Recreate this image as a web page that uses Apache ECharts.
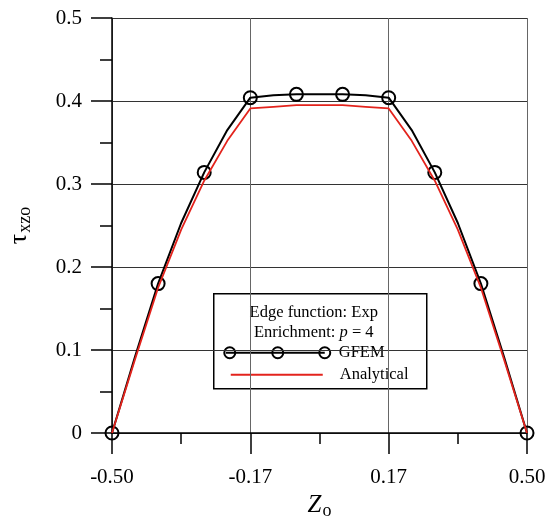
<!DOCTYPE html>
<html>
<head>
<meta charset="utf-8">
<script src="https://cdn.jsdelivr.net/npm/echarts@6/dist/echarts.min.js"></script>
<style>html,body{margin:0;padding:0;background:#fff;}#c{width:550px;height:516px;}</style>
</head>
<body>
<div id="c"></div>
<script>
// Sampling positions (z_o)
var zPos = [-0.5, -0.4444, -0.3889, -0.3333, -0.2778, -0.2222, -0.1667, -0.1111, -0.0556, 0,
            0.0556, 0.1111, 0.1667, 0.2222, 0.2778, 0.3333, 0.3889, 0.4444, 0.5];
// GFEM (markers on every other point)
var gfemVals = [0, 0.092, 0.18, 0.253, 0.314, 0.365, 0.404, 0.407, 0.408, 0.408,
                0.408, 0.407, 0.404, 0.365, 0.314, 0.253, 0.18, 0.092, 0];
// Analytical
var anaVals = [0, 0.089, 0.175, 0.245, 0.304, 0.352, 0.391, 0.393, 0.395, 0.395,
               0.395, 0.393, 0.391, 0.352, 0.304, 0.245, 0.175, 0.089, 0];
var xTickLabels = ['-0.50', '-0.17', '0.17', '0.50'];
var yTickLabels = ['0', '0.1', '0.2', '0.3', '0.4', '0.5'];

function pairs(vals){ return zPos.map(function(z,i){ return [z, vals[i]]; }); }

var FONT = '"Liberation Serif", "DejaVu Serif", serif';
var chart = echarts.init(document.getElementById('c'));
chart.setOption({
  animation: false,
  backgroundColor: '#fff',
  grid: {left: 112, top: 18, width: 415, height: 415, containLabel: false, outerBoundsMode: 'none'},
  xAxis: {
    type: 'value', min: -0.5, max: 0.5, interval: 1/3,
    axisLine: {show: true, onZero: false, lineStyle: {color: '#000', width: 1.5}},
    axisTick: {show: true, inside: false, length: 21, lineStyle: {color: '#000', width: 1.5}},
    minorTick: {show: true, splitNumber: 2, length: 11, lineStyle: {color: '#000', width: 1.5}},
    splitLine: {show: true, lineStyle: {color: '#666', width: 1}},
    axisLabel: {
      margin: 34, fontFamily: FONT, fontSize: 21, color: '#000',
      formatter: function(v){
        var idx = Math.round((v + 0.5) * 3);
        return xTickLabels[idx] !== undefined ? xTickLabels[idx] : '';
      }
    },
    name: '{z|Z}{s|o}', nameLocation: 'middle', nameGap: 57,
    nameTextStyle: {
      rich: {
        z: {fontFamily: FONT, fontSize: 25, fontStyle: 'italic', color: '#000'},
        s: {fontFamily: FONT, fontSize: 18, color: '#000', padding: [12, 0, 0, 1]}
      }
    }
  },
  yAxis: {
    type: 'value', min: 0, max: 0.5, interval: 0.1,
    axisLine: {show: true, onZero: false, lineStyle: {color: '#000', width: 1.5}},
    axisTick: {show: true, inside: false, length: 21, lineStyle: {color: '#000', width: 1.5}},
    minorTick: {show: true, splitNumber: 2, length: 12, lineStyle: {color: '#000', width: 1.5}},
    splitLine: {show: true, lineStyle: {color: '#333', width: 1}},
    axisLabel: {
      margin: 30, fontFamily: FONT, fontSize: 21, color: '#000',
      formatter: function(v){
        var idx = Math.round(v * 10);
        return yTickLabels[idx] !== undefined ? yTickLabels[idx] : '';
      }
    },
    name: '{t|τ}{s|xzo}', nameLocation: 'middle', nameGap: 78, nameRotate: 90,
    nameTextStyle: {
      rich: {
        t: {fontFamily: FONT, fontSize: 26, color: '#000'},
        s: {fontFamily: FONT, fontSize: 18, color: '#000', padding: [12, 0, 0, 1]}
      }
    }
  },
  series: [
    {
      name: 'GFEM', type: 'line', data: pairs(gfemVals),
      showAllSymbol: true,
      symbol: function(v, p){ return p.dataIndex % 2 === 0 ? 'circle' : 'none'; },
      symbolSize: 13,
      lineStyle: {color: '#000', width: 2},
      itemStyle: {color: 'rgba(0,0,0,0)', borderColor: '#000', borderWidth: 2},
      z: 2
    },
    {
      name: 'Analytical', type: 'line', data: pairs(anaVals),
      showSymbol: false, symbol: 'none',
      lineStyle: {color: '#e3231c', width: 1.8},
      z: 3
    }
  ],
  graphic: [
    {type: 'group', left: 213, top: 293, z: 100, children: [
      {type: 'rect', shape: {x: 0, y: 0, width: 213, height: 95},
       style: {fill: '#fff', stroke: '#000', lineWidth: 1.5}},
      {type: 'text', x: 100, y: 19, style: {text: 'Edge function: Exp', fontFamily: FONT, fontSize: 16.5, fill: '#000', align: 'center', verticalAlign: 'middle'}},
      {type: 'text', x: 100, y: 39, style: {
        text: '{a|Enrichment: }{b|p}{a| = 4}', align: 'center', verticalAlign: 'middle',
        rich: {a: {fontFamily: FONT, fontSize: 16.5, fill: '#000'}, b: {fontFamily: FONT, fontSize: 16.5, fontStyle: 'italic', fill: '#000'}}
      }},
      {type: 'line', shape: {x1: 12, y1: 59, x2: 111, y2: 59}, style: {stroke: '#000', lineWidth: 2}},
      {type: 'circle', shape: {cx: 16, cy: 59, r: 5.5}, style: {fill: 'none', stroke: '#000', lineWidth: 2}},
      {type: 'circle', shape: {cx: 64, cy: 59, r: 5.5}, style: {fill: 'none', stroke: '#000', lineWidth: 2}},
      {type: 'circle', shape: {cx: 111, cy: 59, r: 5.5}, style: {fill: 'none', stroke: '#000', lineWidth: 2}},
      {type: 'text', x: 125, y: 59, style: {text: 'GFEM', fontFamily: FONT, fontSize: 16.5, fill: '#000', align: 'left', verticalAlign: 'middle'}},
      {type: 'line', shape: {x1: 17, y1: 81, x2: 109, y2: 81}, style: {stroke: '#e3231c', lineWidth: 1.8}},
      {type: 'text', x: 126, y: 81, style: {text: 'Analytical', fontFamily: FONT, fontSize: 16.5, fill: '#000', align: 'left', verticalAlign: 'middle'}}
    ]}
  ]
});
</script>
</body>
</html>
